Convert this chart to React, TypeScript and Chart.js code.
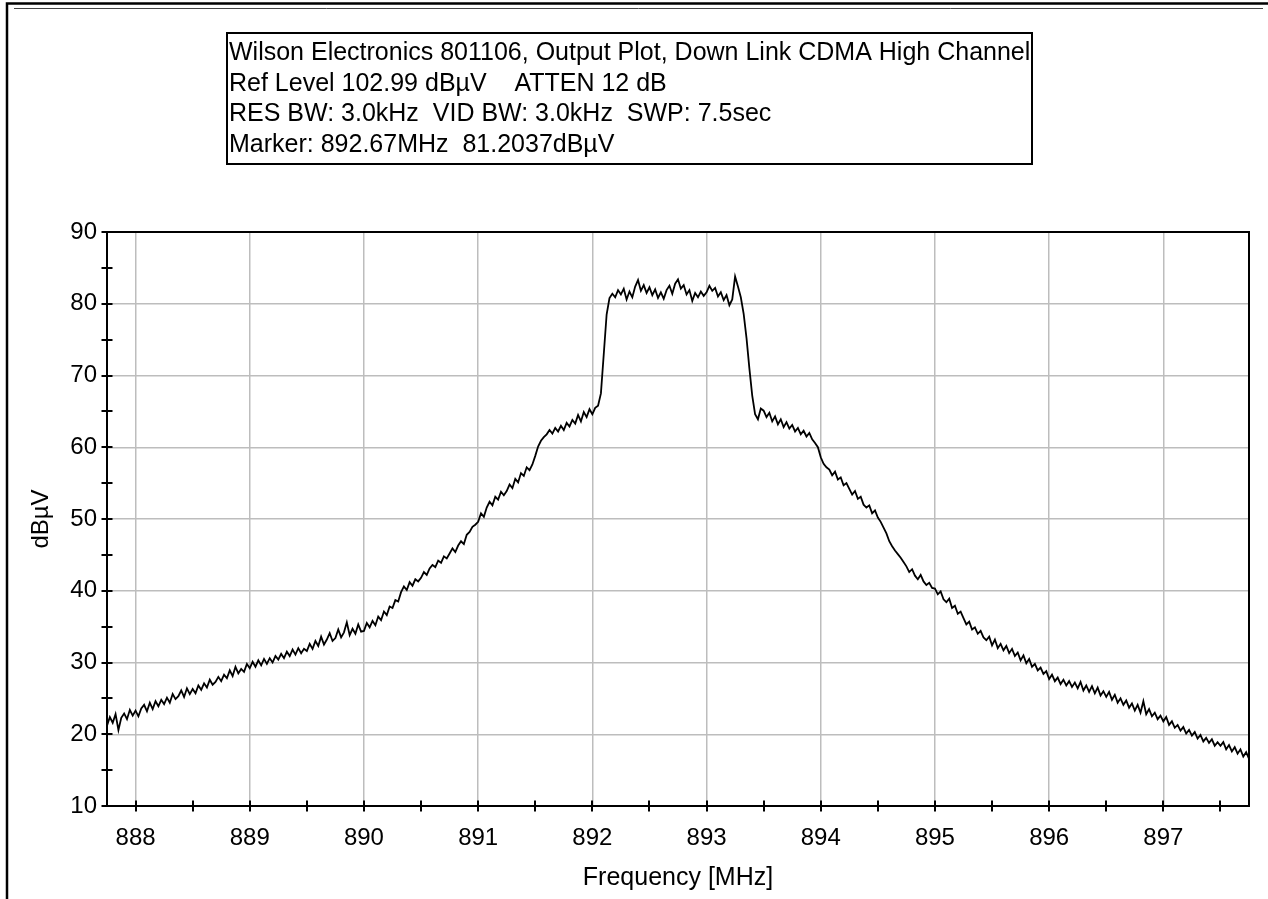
import React, { useEffect, useRef } from "react";
import { Chart, registerables } from "chart.js";

Chart.register(...registerables);

// Sweep definition (frequency of the first sample and spacing between samples)
const SWEEP_START_MHZ = 887.75;
const SWEEP_STEP_MHZ = 0.025;

const LEVEL_DBUV: number[] = [
  // 887.75
  21.2, 22.4, 21.6, 22.8, 20.6, 22.3, 22.9, 22.1, 23.4, 22.6,
  // 888.00
  23.3, 22.5, 23.6, 24.1, 23.2, 24.4, 23.5, 24.6, 23.9, 24.8,
  24.2, 25.1, 24.4, 25.6, 24.9, 25.3, 26.1, 25.2, 26.4, 25.6,
  26.3, 25.7, 26.8, 26.2, 27.1, 26.5, 27.6, 26.9, 27.3, 28.0,
  27.4, 28.3, 27.8, 28.9, 28.1, 29.4, 28.5, 29.1, 28.7, 29.8,
  // 889.00
  29.2, 30.1, 29.4, 30.3, 29.6, 30.5, 29.8, 30.6, 30.0, 30.9,
  30.4, 31.2, 30.6, 31.5, 30.9, 31.8, 31.1, 32.0, 31.3, 31.9,
  31.6, 32.6, 31.9, 33.0, 32.3, 33.6, 32.5, 33.2, 34.1, 33.0,
  33.4, 34.6, 33.5, 34.2, 35.6, 33.8, 34.7, 34.0, 35.3, 34.3,
  // 890.00
  34.4, 35.5, 34.9, 35.8, 35.2, 36.4, 35.9, 37.1, 36.6, 37.8,
  37.6, 38.7, 38.5, 39.8, 40.6, 40.1, 41.2, 40.7, 41.6, 41.3,
  41.8, 42.6, 42.2, 43.1, 43.6, 43.3, 44.2, 43.9, 44.8, 44.5,
  45.2, 45.9, 45.4, 46.3, 46.9, 46.5, 47.8, 48.2, 48.9, 49.2,
  // 891.00
  49.6, 50.8, 50.3, 51.6, 52.4, 51.9, 53.1, 52.7, 53.8, 53.3,
  53.9, 54.8, 54.3, 55.6, 55.1, 56.4, 56.0, 57.2, 56.8, 57.6,
  58.8, 60.1, 60.9, 61.4, 61.8, 62.4, 61.9, 62.7, 62.2, 63.0,
  62.4, 63.4, 62.9, 63.8, 63.3, 64.5, 63.6, 64.9, 64.2, 65.3,
  // 892.00
  64.6, 65.5, 65.8, 67.5, 73.0, 78.5, 80.8, 81.4, 80.9, 81.9,
  81.3, 82.1, 80.6, 81.7, 80.9, 82.4, 83.3, 81.8, 82.6, 81.5,
  82.3, 81.2, 82.0, 80.8, 81.6, 80.7, 81.9, 82.5, 81.4, 82.8,
  83.4, 82.1, 82.6, 81.3, 81.9, 80.4, 81.5, 80.9, 81.7, 81.1,
  // 893.00
  81.6, 82.5, 81.8, 82.2, 81.0, 81.6, 80.5, 81.2, 79.8, 80.6,
  83.8, 82.4, 80.9, 78.6, 75.2, 71.0, 67.2, 64.6, 63.9, 65.4,
  65.1, 64.2, 64.8, 63.6, 64.3, 63.2, 63.9, 62.8, 63.5, 62.6,
  63.1, 62.2, 62.7, 61.8, 62.3, 61.5, 62.0, 61.1, 60.6, 60.0,
  // 894.00
  58.6, 57.7, 57.2, 56.9, 56.1, 56.6, 55.5, 55.8, 54.7, 55.0,
  54.2, 53.4, 53.9, 52.8, 53.1, 52.0, 51.6, 51.9, 50.8, 51.2,
  50.2, 49.6, 48.8, 48.0, 46.9, 46.2, 45.6, 45.1, 44.6, 44.0,
  43.4, 42.6, 43.0, 42.1, 41.6, 42.2, 41.3, 40.8, 41.1, 40.4,
  // 895.00
  40.3, 39.5, 39.9, 38.8, 38.4, 38.9, 37.6, 37.9, 36.8, 37.1,
  36.2, 35.3, 35.7, 34.6, 34.9, 34.0, 34.4, 33.5, 33.1, 33.6,
  32.4, 33.2, 32.0, 32.6, 31.7, 32.3, 31.3, 31.9, 30.9, 31.4,
  30.3, 31.0, 29.9, 30.5, 29.4, 29.8, 28.9, 29.3, 28.4, 28.8,
  // 896.00
  27.7, 28.3, 27.4, 27.9, 27.0, 27.6, 26.8, 27.4, 26.6, 27.2,
  26.4, 27.3, 26.1, 26.8, 25.9, 26.7, 25.7, 26.5, 25.4, 26.0,
  25.2, 25.9, 24.8, 25.5, 24.4, 25.0, 24.1, 24.7, 23.7, 24.3,
  23.3, 24.1, 23.0, 24.6, 22.8, 23.5, 22.5, 23.0, 22.1, 22.6,
  // 897.00
  21.8, 22.4, 21.3, 21.8, 20.9, 21.3, 20.5, 21.0, 20.1, 20.6,
  19.8, 20.3, 19.4, 19.9, 19.0, 19.5, 18.8, 19.3, 18.4, 18.9,
  18.4, 18.9, 17.9, 18.5, 17.6, 18.2, 17.3, 17.9, 16.9, 17.5,
  // 897.75
  16.6,
];

const X_MIN = 887.75;
const X_MAX = 897.75;
const Y_MIN = 10;
const Y_MAX = 90;
const X_MAJOR_TICKS = [888, 889, 890, 891, 892, 893, 894, 895, 896, 897];
const X_MINOR_TICKS = [888.5, 889.5, 890.5, 891.5, 892.5, 893.5, 894.5, 895.5, 896.5, 897.5];
const Y_MAJOR_TICKS = [10, 20, 30, 40, 50, 60, 70, 80, 90];
const Y_MINOR_TICKS = [15, 25, 35, 45, 55, 65, 75, 85];

const X_TITLE = "Frequency [MHz]";
const Y_TITLE = "dBµV";
const INFO_LINES = [
  "Wilson Electronics 801106, Output Plot, Down Link CDMA High Channel",
  "Ref Level 102.99 dBµV    ATTEN 12 dB",
  "RES BW: 3.0kHz  VID BW: 3.0kHz  SWP: 7.5sec",
  "Marker: 892.67MHz  81.2037dBµV",
];

const FONT_FAMILY = '"Liberation Sans", Arial, Helvetica, sans-serif';
const W = 1268;
const H = 899;

const decorPlugin = {
  id: "decor",
  beforeDraw(chart: any) {
    const ctx = chart.ctx;
    ctx.save();
    ctx.fillStyle = "#ffffff";
    ctx.fillRect(0, 0, chart.width, chart.height);
    ctx.restore();
  },
  afterDraw(chart: any) {
    const { ctx, chartArea } = chart;
    const xs = chart.scales.x;
    const ys = chart.scales.y;
    ctx.save();

    // outer frame (left and top edges)
    ctx.strokeStyle = "#000";
    ctx.lineWidth = 2.5;
    ctx.beginPath();
    ctx.moveTo(7, H);
    ctx.lineTo(7, 3.5);
    ctx.lineTo(W, 3.5);
    ctx.stroke();
    ctx.strokeStyle = "#444";
    ctx.lineWidth = 1;
    ctx.beginPath();
    ctx.moveTo(14, 8.5);
    ctx.lineTo(1263, 8.5);
    ctx.stroke();

    // plot border
    ctx.strokeStyle = "#000";
    ctx.lineWidth = 2;
    ctx.strokeRect(
      chartArea.left,
      chartArea.top,
      chartArea.right - chartArea.left,
      chartArea.bottom - chartArea.top
    );

    // crossing tick marks
    const L = 5.5;
    ctx.beginPath();
    for (const v of [...Y_MAJOR_TICKS, ...Y_MINOR_TICKS]) {
      const y = Math.round(ys.getPixelForValue(v));
      ctx.moveTo(chartArea.left - L, y);
      ctx.lineTo(chartArea.left + L, y);
    }
    for (const v of [...X_MAJOR_TICKS, ...X_MINOR_TICKS]) {
      const x = Math.round(xs.getPixelForValue(v));
      ctx.moveTo(x, chartArea.bottom - L);
      ctx.lineTo(x, chartArea.bottom + L);
    }
    ctx.stroke();

    // info box
    ctx.lineWidth = 2;
    ctx.strokeRect(227, 33, 805, 131);
    ctx.fillStyle = "#000";
    ctx.font = `25px ${FONT_FAMILY}`;
    ctx.textAlign = "left";
    ctx.textBaseline = "alphabetic";
    const baselines = [60, 90.5, 121, 152];
    INFO_LINES.forEach((t, i) => ctx.fillText(t, 229, baselines[i]));

    ctx.restore();
  },
};

export default function App() {
  const canvasRef = useRef<HTMLCanvasElement | null>(null);

  useEffect(() => {
    const canvas = canvasRef.current;
    if (!canvas) return;
    const points = LEVEL_DBUV.map((v, i) => ({
      x: SWEEP_START_MHZ + i * SWEEP_STEP_MHZ,
      y: v,
    }));
    const gridColor = "#bdbdbd";
    const chart = new Chart(canvas, {
      type: "line",
      data: {
        datasets: [
          {
            data: points,
            borderColor: "#000000",
            borderWidth: 1.8,
            pointRadius: 0,
            tension: 0,
            fill: false,
          },
        ],
      },
      options: {
        animation: false,
        responsive: false,
        maintainAspectRatio: false,
        devicePixelRatio: 1,
        layout: { padding: { left: 0, top: 232, right: 19, bottom: 0 } },
        plugins: {
          legend: { display: false },
          tooltip: { enabled: false },
          title: { display: false },
        },
        scales: {
          x: {
            type: "linear",
            min: X_MIN,
            max: X_MAX,
            afterBuildTicks: (s: any) => {
              s.ticks = X_MAJOR_TICKS.map((v) => ({ value: v }));
            },
            afterFit: (s: any) => {
              s.height = 93;
            },
            grid: { color: gridColor, lineWidth: 1.5, drawTicks: false },
            border: { display: false },
            ticks: {
              padding: 18,
              color: "#000",
              maxRotation: 0,
              autoSkip: false,
              font: { family: FONT_FAMILY, size: 24 },
              callback: (v: any) => String(v),
            },
            title: {
              display: true,
              text: X_TITLE,
              color: "#000",
              font: { family: FONT_FAMILY, size: 25 },
              padding: { top: 0, bottom: 6 },
            },
          },
          y: {
            type: "linear",
            min: Y_MIN,
            max: Y_MAX,
            afterBuildTicks: (s: any) => {
              s.ticks = Y_MAJOR_TICKS.map((v) => ({ value: v }));
            },
            afterFit: (s: any) => {
              s.width = 107;
            },
            grid: { color: gridColor, lineWidth: 1.5, drawTicks: false },
            border: { display: false },
            ticks: {
              padding: 10,
              color: "#000",
              font: { family: FONT_FAMILY, size: 24 },
              callback: (v: any) => String(v),
            },
            title: {
              display: true,
              text: Y_TITLE,
              color: "#000",
              font: { family: FONT_FAMILY, size: 24 },
              padding: { top: 27, bottom: 0 },
            },
          },
        },
      },
      plugins: [decorPlugin],
    } as any);
    return () => chart.destroy();
  }, []);

  return (
    <div style={{ position: "fixed", left: 0, top: 0, width: W, height: H, background: "#fff" }}>
      <canvas ref={canvasRef} width={W} height={H} style={{ display: "block", width: W, height: H }} />
    </div>
  );
}
